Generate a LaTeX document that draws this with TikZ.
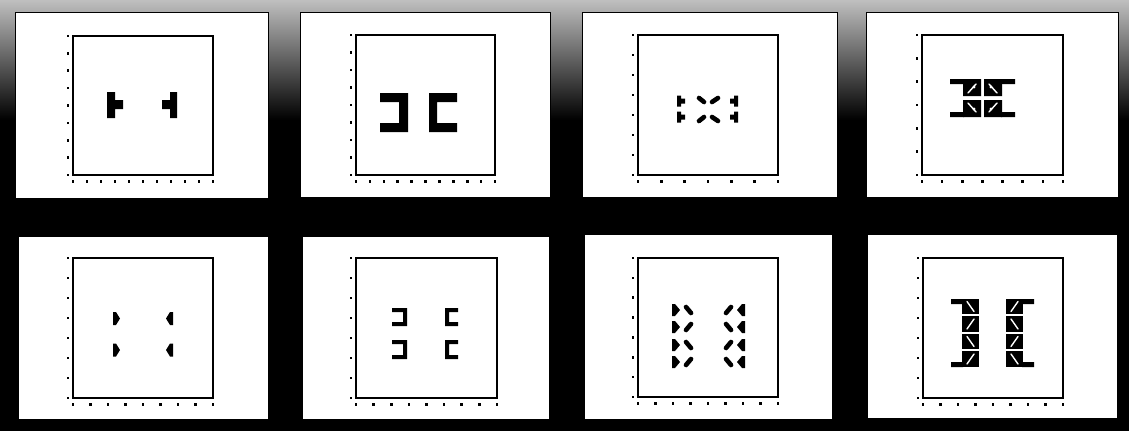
\documentclass[tikz,border=0pt]{standalone}
\tikzset{
  panelbox/.style={fill=white, draw=black, line width=0.8pt},
  plotbox/.style={draw=black, line width=1.3pt},
  ink/.style={fill=black},
  blob/.style={draw=black, line width=4.6pt, line cap=round},
  slit/.style={draw=white, line width=1.4pt, line cap=round},
}
\newcommand\panelframe[4]{\filldraw[panelbox] (#1,#2) rectangle (#3,#4);}
\newcommand\plotaxes[6]{%
  \draw[plotbox] (#1,#2) rectangle (#3,#4);
  \foreach \k in {0,...,#5} {\fill ({#1+(#3-#1)*\k/#5-1.3},{#4+5}) rectangle ++(2.6,2.6);}
  \foreach \k in {0,...,#6} {\fill ({#1-6.5},{#2+(#4-#2)*\k/#6-1.3}) rectangle ++(2.6,2.6);}
}
\begin{document}
\begin{tikzpicture}[x=1pt,y=-1pt]
\useasboundingbox (0,0) rectangle (1129,431);
\fill[black] (0,0) rectangle (1129,431);
\shade[top color=gray!50, bottom color=black] (0,0) rectangle (1129,120);

% ---------- top row ----------
\panelframe{15}{12}{268}{198}
\plotaxes{73}{36}{213}{175}{10}{8}
\panelframe{300}{12}{550}{197}
\plotaxes{356}{35}{495}{175}{10}{8}
\panelframe{582}{12}{837}{197}
\plotaxes{638}{35}{778}{175}{6}{7}
\panelframe{866}{12}{1118}{197}
\plotaxes{922}{35}{1063}{175}{7}{6}

% ---------- bottom row ----------
\panelframe{18}{236}{268}{419}
\plotaxes{73}{258}{213}{398}{8}{7}
\panelframe{302}{236}{549}{419}
\plotaxes{356}{258}{497}{398}{8}{7}
\panelframe{584}{234}{832}{419}
\plotaxes{638}{258}{778}{397}{8}{7}
\panelframe{867}{234}{1117}{418}
\plotaxes{923}{258}{1063}{398}{8}{7}

% panel 1: two T shapes
\fill[ink] (107,92) rectangle (115,118) (115,100) rectangle (123,109);
\fill[ink] (170,92) rectangle (177,118) (162,100) rectangle (170,109);

% panel 2: ] [
\fill[ink] (380,93) rectangle (408,102) (399,93) rectangle (408,132) (380,123) rectangle (408,132);
\fill[ink] (429,93) rectangle (437,132) (429,93) rectangle (457,102) (429,123) rectangle (457,132);

% panel 3
\foreach \c in {101,117} {
  \fill[ink] (677,\c-5.5) rectangle (681,\c+5.5) (681,\c-2.5) rectangle (685,\c+2.5);
  \fill[ink] (734,\c-5.5) rectangle (738,\c+5.5) (730,\c-2.5) rectangle (734,\c+2.5);
}
\draw[blob] (699,98) -- (704,102);
\draw[blob] (718,98) -- (712,102);
\draw[blob] (699,121) -- (704,117);
\draw[blob] (718,121) -- (712,117);

% panel 4
\fill[ink] (950,79) rectangle (964,84) (1001,79) rectangle (1015,84);
\fill[ink] (950,112) rectangle (964,117) (1001,112) rectangle (1015,117);
\fill[ink] (963,79) rectangle (981,96) (963,100) rectangle (981,117);
\fill[ink] (984,79) rectangle (1002,96) (984,100) rectangle (1002,117);
\draw[slit] (968,93) -- (976,84);
\draw[slit] (989,84) -- (997,93);
\draw[slit] (968,103) -- (976,112);
\draw[slit] (989,112) -- (997,103);
\fill[white] (974,87) circle (1.6) (991,87) circle (1.6) (974,109) circle (1.6) (991,109) circle (1.6);

% panel 5
\foreach \c in {318.5,350} {
  \fill[ink] (113,\c-6.5) -- (116,\c-6.5) -- (120,\c) -- (116,\c+6.5) -- (113,\c+6.5) -- cycle;
  \fill[ink] (173,\c-6.5) -- (170,\c-6.5) -- (166,\c) -- (170,\c+6.5) -- (173,\c+6.5) -- cycle;
}

% panel 6
\foreach \t/\b in {308/326,340/359} {
  \fill[ink] (392,\t) rectangle (407,\t+4) (403,\t) rectangle (407,\b) (392,\b-4) rectangle (407,\b);
  \fill[ink] (445,\t) rectangle (449,\b) (445,\t) rectangle (458,\t+4) (445,\b-4) rectangle (458,\b);
}

% panel 7
\foreach \c/\s in {310/1,327/-1,345/1,362/-1} {
  \fill[ink] (672,\c-6) -- (675,\c-6) -- (680,\c) -- (675,\c+6) -- (672,\c+6) -- cycle;
  \fill[ink] (745,\c-6) -- (742,\c-6) -- (737,\c) -- (742,\c+6) -- (745,\c+6) -- cycle;
  \draw[blob] (686,\c-3*\s) -- (691,\c+3*\s);
  \draw[blob] (731,\c-3*\s) -- (726,\c+3*\s);
}

% panel 8
\fill[ink] (951,299) rectangle (963,304) (951,362) rectangle (963,367);
\fill[ink] (1022,299) rectangle (1034,304) (1022,362) rectangle (1034,367);
\foreach \t/\b/\s in {299/314/1,316/332/-1,334/349/1,351/367/-1} {
  \fill[ink] (962,\t) rectangle (979,\b);
  \fill[ink] (1006,\t) rectangle (1023,\b);
  \draw[slit] (970.5-3.5*\s,{(\t+\b)/2-5}) -- (970.5+3.5*\s,{(\t+\b)/2+5});
  \draw[slit] (1014.5+3.5*\s,{(\t+\b)/2-5}) -- (1014.5-3.5*\s,{(\t+\b)/2+5});
}
\end{tikzpicture}
\end{document}
